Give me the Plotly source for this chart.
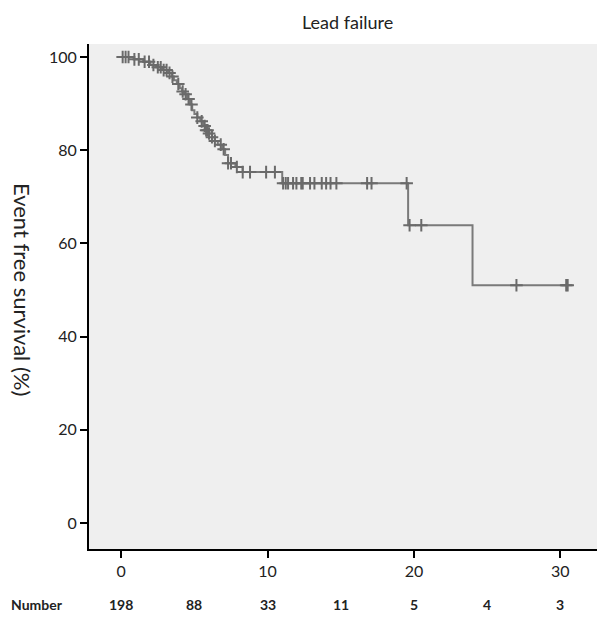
import numpy as np
import plotly.graph_objects as go

# Kaplan-Meier step data (time, survival %)
event_times = [0, 0.9, 1.5, 2.0, 2.4, 2.8, 3.2, 3.45, 3.6, 3.8, 4.0, 4.15, 4.3, 4.5, 4.7,
               4.85, 5.0, 5.2, 5.4, 5.6, 5.8, 6.0, 6.2, 6.4, 6.6, 6.9, 7.1, 7.3, 7.8, 8.3,
               11.0, 19.6, 24.0, 30.5]
survival = [100, 99.5, 99.0, 98.3, 97.8, 97.2, 96.6, 95.8, 95.0, 94.2, 93.3, 92.6, 92.0, 91.0, 89.8,
            88.6, 87.8, 87.0, 86.2, 85.2, 84.3, 83.6, 82.8, 82.0, 81.2, 80.2, 79.0, 77.2, 76.4, 75.3,
            72.9, 63.9, 51.0, 51.0]

censor_times = [0.1, 0.3, 0.5, 0.9, 1.2, 1.6, 1.9, 2.2, 2.5, 2.7, 2.9, 3.1, 3.3, 3.5, 3.9,
                4.2, 4.4, 4.6, 4.8, 5.2, 5.5, 5.7, 5.8, 5.9, 6.0, 6.2, 6.4, 6.8, 7.0, 7.3,
                7.5, 7.9, 8.3, 8.8, 9.9, 10.5, 11.06, 11.24, 11.4, 11.74, 11.97, 12.3, 12.4,
                12.9, 13.2, 13.7, 14.0, 14.3, 14.7, 16.8, 17.1, 19.5, 19.7, 20.5, 27.0, 30.4, 30.5]

risk_times = [0, 5, 10, 15, 20, 25, 30]
risk_numbers = ["198", "88", "33", "11", "5", "4", "3"]

x_ticks = [0, 10, 20, 30]
y_ticks = [0, 20, 40, 60, 80, 100]

et = np.array(event_times)
sv = np.array(survival)
ct = np.array(censor_times)
cs = sv[np.searchsorted(et, ct, side="right") - 1]

FONT = "Lato"

fig = go.Figure()
fig.add_trace(go.Scatter(x=event_times, y=survival, mode="lines", line_shape="hv",
                         line=dict(color="#7a7a7a", width=2), hoverinfo="skip"))
fig.add_trace(go.Scatter(x=ct, y=cs, mode="markers",
                         marker=dict(symbol="cross-thin", size=9,
                                     line=dict(color="#6a6a6a", width=2)),
                         hoverinfo="skip"))

annotations = [
    dict(text="Lead failure", xref="paper", yref="paper", x=0.5, y=1.0, yshift=22,
         showarrow=False, font=dict(family=FONT, size=18, color="#222"), yanchor="middle"),
    dict(text="Event free survival (%)", xref="paper", yref="paper", x=-0.130, y=0.513,
         textangle=90, showarrow=False, font=dict(family=FONT, size=22, color="#222"),
         xanchor="center", yanchor="middle"),
    dict(text="<b>Number</b>", xref="paper", yref="paper", x=-0.155, y=-0.109,
         showarrow=False, font=dict(family=FONT, size=14, color="#222"),
         xanchor="left", yanchor="middle"),
]
for t, n in zip(risk_times, risk_numbers):
    annotations.append(dict(text=f"<b>{n}</b>", xref="x", yref="paper", x=t, y=-0.109,
                            showarrow=False, font=dict(family=FONT, size=14, color="#222"),
                            xanchor="center", yanchor="middle"))

fig.update_layout(
    width=597, height=609,
    margin=dict(l=81, r=0, t=36, b=68),
    paper_bgcolor="white", plot_bgcolor="#efefef",
    showlegend=False,
    annotations=annotations,
    xaxis=dict(range=[-2.2, 33.05], tickvals=x_ticks, showgrid=False, zeroline=False,
               showline=True, linecolor="black", linewidth=2,
               ticks="outside", ticklen=7, tickwidth=2, tickcolor="black",
               tickfont=dict(family=FONT, size=16, color="#222")),
    yaxis=dict(range=[-5.6, 102.8], tickvals=y_ticks, showgrid=False, zeroline=False,
               showline=True, linecolor="black", linewidth=2,
               ticks="outside", ticklen=7, tickwidth=2, tickcolor="black",
               tickfont=dict(family=FONT, size=16, color="#222")),
)

fig.write_html("out.html")
